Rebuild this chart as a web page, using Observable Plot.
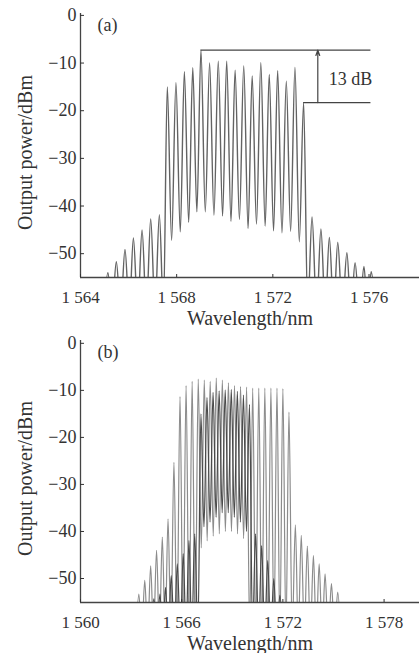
<!DOCTYPE html>
<html><head><meta charset="utf-8">
<script src="https://cdn.jsdelivr.net/npm/d3@7"></script>
<script src="https://cdn.jsdelivr.net/npm/@observablehq/plot@0.6"></script>
<style>body{margin:0;background:#fff}svg{display:block}</style>
</head><body><div id="c"></div>
<script>
// ---------- Panel (a) ----------
const aXTicks = [1564, 1568, 1572, 1576];
const aYTicks = [0, -10, -20, -30, -40, -50];
const aPeakWl = [1565.14,1565.49,1565.85,1566.20,1566.56,1566.92,1567.28,
  1567.61,1567.97,1568.32,1568.67,1569.01,1569.37,1569.73,1570.08,1570.43,1570.79,1571.14,1571.50,1571.85,1572.20,1572.56,1572.92,1573.28,
  1573.63,1574.00,1574.35,1574.70,1575.08,1575.42,1575.79,1576.09];
const aPeakDb = [-54.0,-51.7,-49.1,-46.7,-45.0,-42.7,-41.8,
  -15.0,-14.1,-11.8,-11.0,-7.3,-10.0,-9.6,-9.6,-11.5,-10.6,-12.7,-9.9,-12.4,-11.6,-13.8,-10.9,-18.3,
  -42.3,-44.8,-46.6,-47.6,-49.8,-51.9,-52.7,-53.8];
const aValleyWl = [1564.97,1565.31,1565.67,1566.03,1566.38,1566.74,1567.10,1567.45,
  1567.79,1568.15,1568.50,1568.84,1569.19,1569.55,1569.91,1570.26,1570.61,1570.97,1571.32,1571.68,1572.03,1572.38,1572.74,1573.10,
  1573.45,1573.82,1574.18,1574.53,1574.89,1575.25,1575.61,1575.94,1576.27];
const aValleyDb = [-62,-62,-62,-62,-62,-62,-62,-62,
  -47.2,-45.4,-43.4,-41.2,-41.2,-41.9,-42.1,-43.2,-42.8,-44.7,-43.8,-44.2,-45.2,-45.6,-45.3,-47.5,
  -62,-62,-62,-62,-62,-62,-62,-62,-62];
// 13 dB annotation
const aTopLine = {wl1: 1569.01, wl2: 1576.08, db: -7.3};
const aLowLine = {wl1: 1573.28, wl2: 1576.08, db: -18.3};
const aArrowWl = 1573.87;
const aNote = {wl: 1574.33, db: -13.4, text: "13 dB"};

// ---------- Panel (b) ----------
const bXTicks = [1560, 1566, 1572, 1578];
const bYTicks = [0, -10, -20, -30, -40, -50];
// light comb
const bAPeakWl = [1563.46,1563.81,1564.16,1564.51,1564.85,1565.19,
  1565.54,1565.90,1566.26,1566.62,1566.98,1567.34,1567.69,1568.05,1568.41,1568.77,1569.13,1569.49,1569.85,1570.21,1570.57,1570.93,1571.29,1571.65,1572.00,1572.36,
  1572.74,1573.09,1573.45,1573.81,1574.15,1574.50,1574.88,1575.25];
const bAPeakDb = [-53.3,-50.4,-47.3,-44.0,-41.2,-37.3,
  -25.3,-11.3,-9.0,-8.1,-7.6,-7.8,-8.1,-7.4,-7.8,-8.4,-9.0,-9.2,-9.3,-9.5,-9.5,-9.5,-9.5,-9.5,-9.6,-14.6,
  -38.6,-40.8,-43.1,-45.1,-46.9,-49.0,-51.1,-52.9];
const bAValleyWl = [1563.29,1563.63,1563.98,1564.33,1564.68,1565.02,1565.36,
  1565.72,1566.08,1566.44,1566.80,1567.16,1567.51,1567.87,1568.23,1568.59,1568.95,1569.31,1569.67,1570.03,1570.39,1570.75,1571.11,1571.47,1571.82,1572.18,
  1572.55,1572.91,1573.27,1573.63,1573.98,1574.33,1574.69,1575.06,1575.43];
const bAValleyDb = [-62,-62,-62,-62,-62,-62,-62,
  -62,-62,-62,-62,-43.5,-42,-41,-40.5,-40,-40,-40.5,-41.5,-62,-62,-62,-62,-62,-62,-62,
  -62,-62,-62,-62,-62,-62,-62,-62,-62];
// dark comb
const bBPeakWl = [1564.35,1564.71,1565.04,1565.38,1565.74,1566.09,1566.43,1566.77,
  1567.14,1567.50,1567.86,1568.22,1568.58,1568.94,1569.30,1569.66,1570.02,
  1570.38,1570.74,1571.10,1571.46,1571.82];
const bBPeakDb = [-54.3,-53.3,-51.9,-49.4,-46.9,-44.7,-41.9,-40.5,
  -15.0,-11.5,-10.4,-10.1,-9.9,-9.8,-10.2,-11.0,-13.0,
  -40.5,-43.0,-46.2,-50.0,-53.6];
const bBValleyWl = [1564.17,1564.53,1564.88,1565.21,1565.56,1565.92,1566.26,1566.60,1566.96,
  1567.32,1567.68,1568.04,1568.40,1568.76,1569.12,1569.48,1569.84,
  1570.20,1570.56,1570.92,1571.28,1571.64,1572.00];
const bBValleyDb = [-62,-62,-62,-62,-62,-62,-62,-62,-62,
  -39,-38,-37,-36,-36,-37,-38,-40,
  -62,-62,-62,-62,-62,-62];

const SERIF = "'Liberation Serif','Times New Roman',serif";
const INK = "#333";

function comb(pw, pd, vw, vd) {
  const pts = pw.map((w, i) => ({wl: w, db: pd[i]}))
    .concat(vw.map((w, i) => ({wl: w, db: vd[i]})));
  return pts.sort((a, b) => a.wl - b.wl);
}
const fmtX = d => String(d).replace(/^(\d)(\d{3})$/, "$1 $2");
const fmtY = d => d === 0 ? "0" : "\u2212" + Math.abs(d);

function panel({height, xDomain, yDomain, marginTop, marginBottom, xTicks, yTicks, series, tag, extra}) {
  return Plot.plot({
    width: 419, height, marginLeft: 80, marginRight: 0, marginTop, marginBottom,
    x: {domain: xDomain, axis: null},
    y: {domain: yDomain, axis: null},
    style: {fontFamily: SERIF, background: "#fff", overflow: "visible"},
    marks: [
      ...series.map(s => Plot.line(s.data, {x: "wl", y: "db", stroke: s.color, strokeWidth: s.width, curve: "monotone-x", clip: true})),
      ...(extra || []),
      Plot.ruleX([xDomain[0]], {stroke: "#444", strokeWidth: 1.3}),
      Plot.ruleY([yDomain[0]], {stroke: "#444", strokeWidth: 1.3}),
      Plot.axisY(yTicks, {anchor: "left", tickSize: -4, tickPadding: 8, tickFormat: fmtY, fontSize: 18, color: INK, label: null}),
      Plot.axisX(xTicks, {anchor: "bottom", tickSize: -3, tickPadding: 16, tickFormat: fmtX, fontSize: 17, color: INK, label: null}),
      Plot.text(["Wavelength/nm"], {frameAnchor: "bottom", dy: 41, fontSize: 20, fill: INK, textAnchor: "middle", lineAnchor: "middle"}),
      Plot.text(["Output power/dBm"], {frameAnchor: "left", dx: -55, dy: 7, rotate: -90, fontSize: 20, fill: INK, textAnchor: "middle", lineAnchor: "middle"}),
      Plot.text([tag], {frameAnchor: "top-left", dx: 17, dy: 12, fontSize: 18, fill: INK, textAnchor: "start", lineAnchor: "middle"})
    ]
  });
}

const c = document.getElementById("c");
c.append(panel({
  height: 330, xDomain: [1564, 1578.1], yDomain: [-55, 0.4], marginTop: 13, marginBottom: 53,
  xTicks: aXTicks, yTicks: aYTicks, tag: "(a)",
  series: [{data: comb(aPeakWl, aPeakDb, aValleyWl, aValleyDb), color: "#636363", width: 1.4}],
  extra: [
    Plot.ruleY([aTopLine], {x1: "wl1", x2: "wl2", y: "db", stroke: "#444", strokeWidth: 1.2}),
    Plot.ruleY([aLowLine], {x1: "wl1", x2: "wl2", y: "db", stroke: "#444", strokeWidth: 1.2}),
    Plot.arrow([{x: aArrowWl, y1: aLowLine.db, y2: aTopLine.db}], {x: "x", y1: "y1", y2: "y2", stroke: "#444", strokeWidth: 1.2, headLength: 7, headAngle: 40}),
    Plot.text([aNote], {x: "wl", y: "db", text: "text", textAnchor: "start", fontSize: 18, fill: INK})
  ]
}));
c.append(panel({
  height: 323, xDomain: [1560, 1580.1], yDomain: [-55.1, 0.6], marginTop: 10, marginBottom: 51,
  xTicks: bXTicks, yTicks: bYTicks, tag: "(b)",
  series: [
    {data: comb(bAPeakWl, bAPeakDb, bAValleyWl, bAValleyDb), color: "#8c8c8c", width: 1.2},
    {data: comb(bBPeakWl, bBPeakDb, bBValleyWl, bBValleyDb), color: "#4a4a4a", width: 1.2}
  ]
}));
</script></body></html>
